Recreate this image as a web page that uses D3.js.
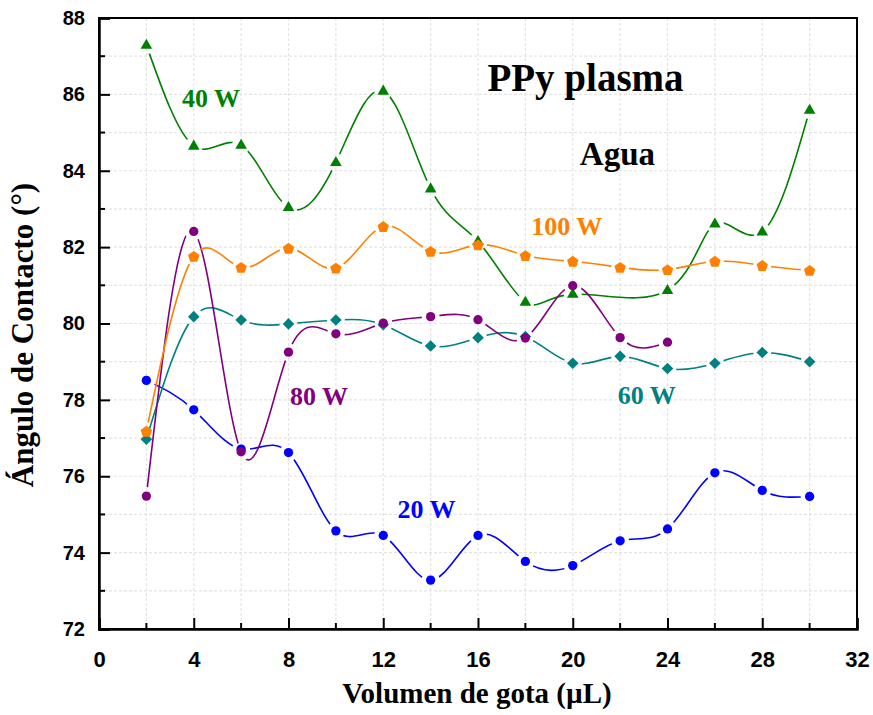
<!DOCTYPE html>
<html lang="es">
<head>
<meta charset="UTF-8">
<title>PPy plasma - Agua</title>
<script src="https://cdn.jsdelivr.net/npm/d3@7"></script>
<style>
body { margin: 0; background: #fff; }
svg text { font-weight: bold; }
</style>
</head>
<body>
<div id="chart"></div>
<script>
// data
var volumen = [2, 4, 6, 8, 10, 12, 14, 16, 18, 20, 22, 24, 26, 28, 30];
var volumen40 = [2, 4, 6, 8, 10, 12, 14, 16, 18, 20, 24, 26, 28, 30];
var volumen80 = [2, 4, 6, 8, 10, 12, 14, 16, 18, 20, 22, 24];

var w20 = [78.51, 77.74, 76.71, 76.62, 74.57, 74.45, 73.28, 74.45, 73.77, 73.66, 74.31, 74.62, 76.09, 75.63, 75.47];
var w40 = [87.29, 84.65, 84.67, 83.04, 84.22, 86.09, 83.53, 82.15, 80.56, 80.77, 80.87, 82.61, 82.40, 85.59];
var w60 = [76.97, 80.18, 80.09, 79.99, 80.09, 79.97, 79.41, 79.63, 79.66, 78.96, 79.14, 78.82, 78.96, 79.24, 79.00];
var w80 = [75.48, 82.41, 76.64, 79.25, 79.73, 80.01, 80.18, 80.10, 79.62, 80.99, 79.63, 79.51];
var w100 = [77.18, 81.76, 81.47, 81.97, 81.45, 82.54, 81.89, 82.06, 81.78, 81.63, 81.47, 81.41, 81.63, 81.52, 81.39];

var xTicks = [0, 4, 8, 12, 16, 20, 24, 28, 32];
var yTicks = [72, 74, 76, 78, 80, 82, 84, 86, 88];

var series = [
  {name: "20 W", x: volumen, y: w20, color: "#0000ff", shape: "circle", lx: 12.6, ly: 74.9},
  {name: "40 W", x: volumen40, y: w40, color: "#008000", shape: "triangle", lx: 3.5, ly: 85.68},
  {name: "60 W", x: volumen, y: w60, color: "#008080", shape: "diamond", lx: 21.9, ly: 77.9},
  {name: "80 W", x: volumen80, y: w80, color: "#800080", shape: "circle", lx: 8.06, ly: 77.87},
  {name: "100 W", x: volumen, y: w100, color: "#ff8000", shape: "pentagon", lx: 18.25, ly: 82.32}
];

var width = 873, height = 715;
var margin = {top: 18, right: 16, bottom: 86, left: 99};
var w = width - margin.left - margin.right,
    h = height - margin.top - margin.bottom;

var svg = d3.select("#chart").append("svg")
    .attr("width", width)
    .attr("height", height);

var g = svg.append("g")
    .attr("transform", "translate(" + margin.left + "," + margin.top + ")");

var x = d3.scaleLinear().domain([0, 32]).range([0, w]);
var y = d3.scaleLinear().domain([72, 88]).range([h, 0]);

// dashed grid on major and minor ticks
g.append("g").selectAll("line")
  .data(d3.range(2, 32, 2))
  .enter().append("line")
    .attr("x1", function(d) { return x(d); })
    .attr("x2", function(d) { return x(d); })
    .attr("y1", 0).attr("y2", h)
    .attr("stroke", "#e4e4e4").attr("stroke-width", 1.2)
    .attr("stroke-dasharray", "3,2");
g.append("g").selectAll("line")
  .data(d3.range(73, 88, 1))
  .enter().append("line")
    .attr("y1", function(d) { return y(d); })
    .attr("y2", function(d) { return y(d); })
    .attr("x1", 0).attr("x2", w)
    .attr("stroke", "#e4e4e4").attr("stroke-width", 1.2)
    .attr("stroke-dasharray", "3,2");

// marker shapes
function shapePath(shape) {
  if (shape == "circle") return d3.symbol().type(d3.symbolCircle).size(68)();
  if (shape == "triangle") return "M0,-6.4L5.8,3.7L-5.8,3.7Z";
  if (shape == "diamond") return "M0,-5.8L5.8,0L0,5.8L-5.8,0Z";
  // pentagon
  var pts = d3.range(5).map(function(i) {
    var a = -Math.PI / 2 + i * 2 * Math.PI / 5;
    return [6 * Math.cos(a), 6 * Math.sin(a) + 0.6];
  });
  return "M" + pts.join("L") + "Z";
}

var line = d3.line().curve(d3.curveNatural);
var defs = svg.append("defs");

series.forEach(function(s, i) {
  var pts = s.x.map(function(v, j) { return [x(v), y(s.y[j])]; });

  // gap in the line around each symbol
  var mask = defs.append("mask")
    .attr("id", "gap" + i)
    .attr("maskUnits", "userSpaceOnUse")
    .attr("x", -margin.left).attr("y", -margin.top)
    .attr("width", width).attr("height", height);
  mask.append("rect")
    .attr("x", -margin.left).attr("y", -margin.top)
    .attr("width", width).attr("height", height)
    .attr("fill", "#fff");
  mask.selectAll("circle")
    .data(pts)
    .enter().append("circle")
      .attr("cx", function(d) { return d[0]; })
      .attr("cy", function(d) { return d[1]; })
      .attr("r", 9)
      .attr("fill", "#000");

  g.append("path")
    .attr("d", line(pts))
    .attr("fill", "none")
    .attr("stroke", s.color)
    .attr("stroke-width", 1.6)
    .attr("mask", "url(#gap" + i + ")");

  g.append("g").selectAll("path")
    .data(pts)
    .enter().append("path")
      .attr("transform", function(d) { return "translate(" + d[0] + "," + d[1] + ")"; })
      .attr("d", shapePath(s.shape))
      .attr("fill", s.color);

  g.append("text")
    .attr("x", x(s.lx))
    .attr("y", y(s.ly))
    .attr("fill", s.color)
    .style("font-family", "'Liberation Serif', 'Times New Roman', serif")
    .style("font-size", "26px")
    .text(s.name);
});

// frame
g.append("rect")
  .attr("width", w).attr("height", h)
  .attr("fill", "none")
  .attr("stroke", "#000").attr("stroke-width", 2);

// axes with inward ticks
var xAxis = g.append("g")
  .attr("transform", "translate(0," + h + ")")
  .call(d3.axisBottom(x).tickValues(xTicks).tickSize(-11).tickPadding(22));
xAxis.append("g").selectAll("line")
  .data(d3.range(2, 32, 4))
  .enter().append("line")
    .attr("x1", function(d) { return x(d); })
    .attr("x2", function(d) { return x(d); })
    .attr("y1", 0).attr("y2", -6)
    .attr("stroke", "#000").attr("stroke-width", 2);

var yAxis = g.append("g")
  .call(d3.axisLeft(y).tickValues(yTicks).tickSize(-11).tickPadding(14));
yAxis.append("g").selectAll("line")
  .data(d3.range(73, 88, 2))
  .enter().append("line")
    .attr("y1", function(d) { return y(d); })
    .attr("y2", function(d) { return y(d); })
    .attr("x1", 0).attr("x2", 6)
    .attr("stroke", "#000").attr("stroke-width", 2);

[xAxis, yAxis].forEach(function(a) {
  a.select(".domain").attr("stroke-width", 2.5);
  a.selectAll(".tick line").attr("stroke-width", 2);
});
xAxis.selectAll(".tick text")
  .style("font-family", "'Liberation Sans Narrow', 'Arial Narrow', 'Liberation Sans', sans-serif")
  .style("font-size", "22px")
  .attr("fill", "#000");
yAxis.selectAll(".tick text")
  .style("font-family", "'Liberation Sans', Arial, sans-serif")
  .style("font-size", "20px")
  .attr("fill", "#000");

// titles and annotations
svg.append("text")
  .attr("x", 477)
  .attr("y", 703)
  .attr("text-anchor", "middle")
  .style("font-family", "'Liberation Serif', 'Times New Roman', serif")
  .style("font-size", "29px")
  .text("Volumen de gota (\u00b5L)");

svg.append("text")
  .attr("transform", "translate(33,335) rotate(-90)")
  .attr("text-anchor", "middle")
  .style("font-family", "'Liberation Serif', 'Times New Roman', serif")
  .style("font-size", "31px")
  .text("\u00c1ngulo de Contacto (\u00b0)");

g.append("text")
  .attr("x", x(16.4)).attr("y", y(86.1))
  .style("font-family", "'Liberation Serif', 'Times New Roman', serif")
  .style("font-size", "39px")
  .text("PPy plasma");

g.append("text")
  .attr("x", x(20.3)).attr("y", y(84.15))
  .style("font-family", "'Liberation Serif', 'Times New Roman', serif")
  .style("font-size", "33px")
  .text("Agua");
</script>
</body>
</html>
